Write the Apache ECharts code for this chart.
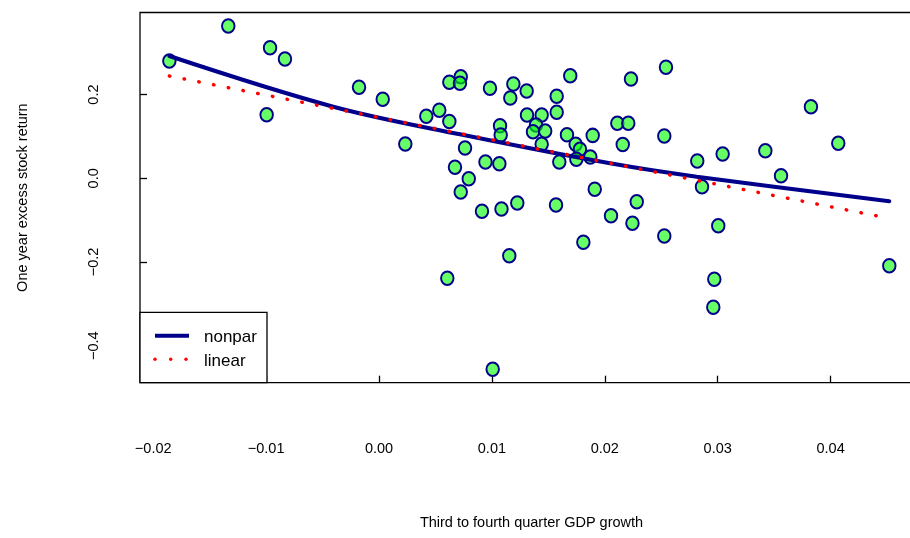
<!DOCTYPE html>
<html>
<head>
<meta charset="utf-8">
<script src="https://cdn.jsdelivr.net/npm/echarts@6/dist/echarts.min.js"></script>
<style>
html,body{margin:0;padding:0;background:#fff;}
#chart{width:910px;height:538px;}
</style>
</head>
<body>
<div id="chart"></div>
<script>
// Observations: GDP growth (x) and one-year excess stock return (y)
var gdpGrowth = [
  -0.01857, -0.01335, -0.00965, -0.00833, -0.00995, -0.00177, 0.00033, 0.00233, 0.00419, 0.00534,
  0.00623, 0.00623, 0.00724, 0.00717, 0.00673, 0.00724, 0.00762, 0.00605, 0.00983, 0.01190,
  0.01163, 0.01308, 0.01694, 0.01574, 0.01574, 0.01311, 0.01441, 0.01072, 0.01078, 0.01391,
  0.01364, 0.01472, 0.01441, 0.01665, 0.01742, 0.01780, 0.01748, 0.01872, 0.01893, 0.01597,
  0.00943, 0.01066, 0.00795, 0.01911, 0.02111, 0.02208, 0.02159, 0.02232, 0.02542, 0.02527,
  0.02819, 0.03044, 0.02861, 0.03422, 0.03561, 0.03826, 0.04068, 0.00912, 0.01085, 0.01225,
  0.01568, 0.02055, 0.02245, 0.02283, 0.02527, 0.03005, 0.01810, 0.01154, 0.02970, 0.02961,
  0.04520, 0.01007
];
var excessReturn = [
  0.2803, 0.3639, 0.3121, 0.2851, 0.1520, 0.2174, 0.1888, 0.0820, 0.1481, 0.1625,
  0.1357, 0.2294, 0.2428, 0.2270, 0.0263, -0.0327, 0.0724, -0.2390, 0.2151, 0.2253,
  0.1919, 0.2086, 0.2452, 0.1962, 0.1577, 0.1513, 0.1513, 0.1257, 0.1035, 0.1274,
  0.1114, 0.1130, 0.0815, 0.1039, 0.0812, 0.0695, 0.0456, 0.0509, 0.1025, 0.0389,
  0.0389, 0.0349, -0.0010, -0.0260, 0.1314, 0.1314, 0.0808, 0.2373, 0.2652, 0.1011,
  0.0413, 0.0581, -0.0201, 0.0659, 0.0062, 0.1711, 0.0836, -0.0789, -0.0734, -0.0590,
  -0.0638, -0.0894, -0.1075, -0.0559, -0.1379, -0.1133, -0.1529, -0.1849, -0.2413, -0.3082,
  -0.2088, -0.4564
];
// Nonparametric fit
var nonparX = [-0.01857, -0.00405, 0.00717, 0.02046, 0.02814, 0.04520];
var nonparY = [0.2922, 0.1711, 0.1051, 0.0358, 0.0038, -0.0550];
// Linear fit endpoints
var linearX = [-0.01857, 0.04520];
var linearY = [0.2444, -0.0957];
// Tick values
var xTicks = [-0.02, -0.01, 0.00, 0.01, 0.02, 0.03, 0.04];
var yTicks = [-0.4, -0.2, 0.0, 0.2];

var xTitle = 'Third to fourth quarter GDP growth';
var yTitle = 'One year excess stock return';
var legendNames = ['nonpar', 'linear'];

function zip(a, b) { return a.map(function (v, i) { return [v, b[i]]; }); }
function fmt(v, d) { return (v < -1e-9 ? '\u2212' : '') + Math.abs(v).toFixed(d); }

var FONT = '"Liberation Sans", Arial, Helvetica, sans-serif';
var NAVY = '#00008B';

var chart = echarts.init(document.getElementById('chart'), null, {renderer: 'canvas'});
chart.setOption({
  animation: false,
  backgroundColor: '#ffffff',
  grid: {
    left: 140, top: 12.5, right: -3, bottom: 155.3,
    show: true, borderColor: '#000', borderWidth: 1.3,
    containLabel: false, outerBoundsMode: 'none'
  },
  xAxis: {
    type: 'value', min: -0.02117, max: 0.0473, scale: true, position: 'bottom',
    name: xTitle, nameLocation: 'middle', nameGap: 133,
    nameTextStyle: {fontFamily: FONT, fontSize: 14.5, color: '#000', padding: [0, 0, 0, 10]},
    axisLine: {show: false, onZero: false},
    splitLine: {show: false},
    axisTick: {show: true, inside: true, length: 7, customValues: xTicks,
      lineStyle: {color: '#000', width: 1.3}},
    axisLabel: {show: true, customValues: xTicks, margin: 59, fontFamily: FONT, fontSize: 14.5, color: '#000',
      formatter: function (v) { return fmt(v, 2); }}
  },
  yAxis: {
    type: 'value', min: -0.4884, max: 0.3962, scale: true, position: 'left',
    name: yTitle, nameLocation: 'middle', nameGap: 110, nameRotate: 90,
    nameTextStyle: {fontFamily: FONT, fontSize: 14.5, color: '#000'},
    axisLine: {show: false, onZero: false},
    splitLine: {show: false},
    axisTick: {show: true, inside: true, length: 7, customValues: yTicks,
      lineStyle: {color: '#000', width: 1.3}},
    axisLabel: {show: true, customValues: yTicks, rotate: 90, margin: 39, fontFamily: FONT, fontSize: 14.5, color: '#000',
      formatter: function (v) { return fmt(v, 1); }}
  },
  series: [
    {
      type: 'scatter', name: 'data', z: 2,
      data: zip(gdpGrowth, excessReturn),
      symbol: 'circle', symbolSize: [12.5, 13.5],
      itemStyle: {color: 'rgba(0,255,0,0.6)', borderColor: NAVY, borderWidth: 2, opacity: 1}
    },
    {
      type: 'line', name: legendNames[0], z: 3,
      data: zip(nonparX, nonparY),
      smooth: 0.35, showSymbol: false, symbol: 'none',
      lineStyle: {color: NAVY, width: 4, cap: 'round'}
    },
    {
      type: 'line', name: legendNames[1], z: 4,
      data: zip(linearX, linearY),
      showSymbol: false, symbol: 'none',
      lineStyle: {color: '#ff0000', width: 3.5, type: [0.5, 14.5], cap: 'round'}
    }
  ],
  graphic: [
    {type: 'rect', shape: {x: 140, y: 312.3, width: 127, height: 70.4},
      style: {fill: '#fff', stroke: '#000', lineWidth: 1.3}, z: 100},
    {type: 'line', shape: {x1: 155, y1: 335.7, x2: 189, y2: 335.7},
      style: {stroke: NAVY, lineWidth: 4}, z: 101},
    {type: 'circle', shape: {cx: 155, cy: 359.3, r: 1.7}, style: {fill: '#ff0000'}, z: 101},
    {type: 'circle', shape: {cx: 170.7, cy: 359.3, r: 1.7}, style: {fill: '#ff0000'}, z: 101},
    {type: 'circle', shape: {cx: 186, cy: 359.3, r: 1.7}, style: {fill: '#ff0000'}, z: 101},
    {type: 'text', x: 204, y: 337, style: {text: legendNames[0], font: '17px ' + FONT, fill: '#000', textVerticalAlign: 'middle', verticalAlign: 'middle'}, z: 101},
    {type: 'text', x: 204, y: 361, style: {text: legendNames[1], font: '17px ' + FONT, fill: '#000', textVerticalAlign: 'middle', verticalAlign: 'middle'}, z: 101}
  ]
});
</script>
</body>
</html>
